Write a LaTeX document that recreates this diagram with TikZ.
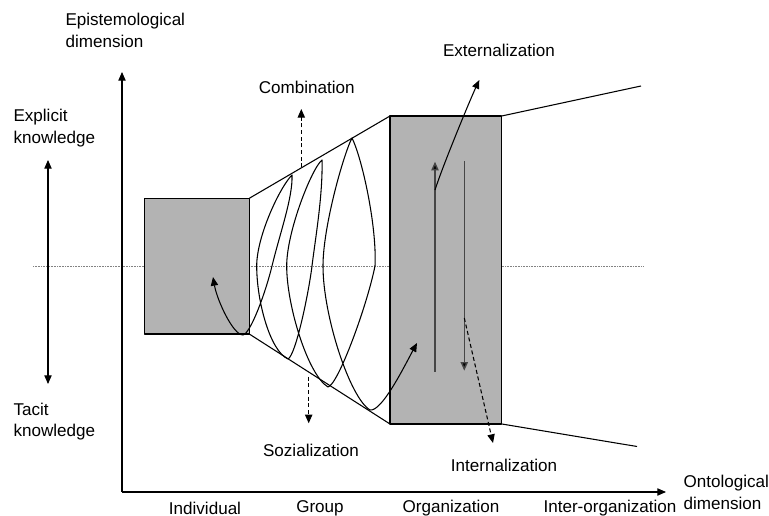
\documentclass[tikz,border=0pt]{standalone}
\usepackage{fontspec}
\setmainfont{Liberation Sans}
\usetikzlibrary{arrows.meta}
\definecolor{boxgray}{RGB}{179,179,179}
\definecolor{inner}{RGB}{70,70,70}
\definecolor{dotline}{RGB}{130,130,130}
\begin{document}
\begin{tikzpicture}[x=0.75pt,y=-0.75pt,
  line width=0.8pt, line join=round,
  lbl/.style={inner sep=0pt, font=\fontsize{12.8}{16.2}\selectfont},
  tip/.style={-{Triangle[length=6.5pt,width=5.5pt]}},
  twotips/.style={{Triangle[length=6.5pt,width=5.5pt]}-{Triangle[length=6.5pt,width=5.5pt]}},
  panel/.style={draw=black, fill=boxgray, line width=0.9pt, inner sep=0pt, outer sep=0pt, anchor=north west},
  flow/.style={tip, dash pattern=on 3pt off 2pt},
  innerline/.style={draw=inner, line width=1.1pt}]

\useasboundingbox (0,0) rectangle (769,516);

% middle reference line between explicit and tacit knowledge
\draw[dotline, line width=0.6pt, dash pattern=on 0.6pt off 0.6pt] (33,266) coordinate (midL) -- (643,266) coordinate (midR);

% axes
\coordinate (origin) at (122,492);
\coordinate (ytop) at (122,72);
\coordinate (xend) at (666,492);
\draw[tip] (origin) -- (ytop);
\draw[tip] (origin) -- (xend);

% knowledge scale on the left
\coordinate (expl) at (48,160);
\coordinate (tac) at (48,384);
\draw[twotips] (expl) -- (tac);

% levels
\node[panel, minimum width=78.6pt, minimum height=101.8pt] (indiv) at (144.5,198.3) {};
\node[panel, minimum width=83.8pt, minimum height=231pt] (org) at (390,116) {};

% funnel
\coordinate (farup) at (641,86);
\coordinate (fardown) at (637,446.5);
\draw (indiv.north east) -- (org.north west);
\draw (indiv.south east) -- (org.south west);
\draw (org.north east) -- (farup);
\draw (org.south east) -- (fardown);

% knowledge spiral
\coordinate (T0) at (213,277);
\coordinate (B0) at (243,335);
\coordinate (R1) at (272,266);
\coordinate (A1) at (292,175);
\coordinate (L1) at (256.7,266);
\coordinate (B1) at (288,359);
\coordinate (R2) at (312,266);
\coordinate (A2) at (322,160);
\coordinate (L2) at (286.7,266);
\coordinate (B2) at (328,387);
\coordinate (R3) at (375,266);
\coordinate (A3) at (352,138);
\coordinate (L3) at (323,266);
\coordinate (B3) at (370,410);
\coordinate (T4) at (417,343);
\draw[{Triangle[length=6.5pt,width=5.5pt]}-{Triangle[length=6.5pt,width=5.5pt]}]
  (T0) .. controls +(4,23) and +(-10,0) .. (B0)
       .. controls +(8,-2) and +(-6,25) .. (R1)
       .. controls +(8,-33) and +(1,22) .. (A1)
       .. controls +(-12,12) and +(0,-30) .. (L1)
       .. controls +(0,35) and +(-18,-8) .. (B1)
       .. controls +(8,-4) and +(-3,25) .. (R2)
       .. controls +(3,-25) and +(1,35) .. (A2)
       .. controls +(-10,8) and +(0,-35) .. (L2)
       .. controls +(0,40) and +(-20,-12) .. (B2)
       .. controls +(10,-2) and +(-8,40) .. (R3)
       .. controls +(2,-40) and +(10,20) .. (A3)
       .. controls +(-8,15) and +(0,-40) .. (L3)
       .. controls +(0,50) and +(-20,-12) .. (B3)
       .. controls +(12,2) and +(-12,22) .. (T4);

% conversion inside the organization
\coordinate (upS) at (435,371.7);
\coordinate (upE) at (435,161.7);
\coordinate (dnS) at (464.3,161);
\coordinate (dnE) at (464.3,370.7);
\draw[innerline, -{Triangle[length=6.5pt,width=5.5pt,fill=black]}] (upS) -- (upE);
\draw[innerline, -{Triangle[length=6.5pt,width=5.5pt,fill=black]}] (dnS) -- (dnE);

% conversion labels and their arrows
\node[lbl] (comb) at (306.7,87) {Combination};
\node[lbl] (soz) at (311,450) {Sozialization};
\node[lbl] (ext) at (499,50) {Externalization};
\node[lbl] (int) at (504,465) {Internalization};

\coordinate (combS) at (301.3,167.3);
\coordinate (combE) at (301.3,109);
\coordinate (sozS) at (308.7,376.7);
\coordinate (sozE) at (308.7,423.3);
\coordinate (extS) at (435,190);
\coordinate (extE) at (479.3,80);
\coordinate (intS) at (464.3,318);
\coordinate (intE) at (493,443);
\draw[flow] (combS) -- (combE);
\draw[flow] (sozS) -- (sozE);
\draw[tip] (extS) .. controls (443,165) and (470,100) .. (extE);
\draw[flow] (intS) -- (intE);

% axis texts
\node[lbl, anchor=west, align=left] (epi) at (65,30.5) {Epistemological\\dimension};
\node[lbl, anchor=west, align=left] (onto) at (683,492.5) {Ontological\\dimension};
\node[lbl, anchor=west, align=left] (explt) at (13,128) {Explicit\\knowledge};
\node[lbl, anchor=west, align=left] (tact) at (13,421.5) {Tacit\\knowledge};

\node[lbl] (lvl1) at (205,508) {Individual};
\node[lbl] (lvl2) at (320,508) {Group};
\node[lbl] (lvl3) at (451,508) {Organization};
\node[lbl] (lvl4) at (610,508) {Inter-organization};
\end{tikzpicture}
\end{document}
